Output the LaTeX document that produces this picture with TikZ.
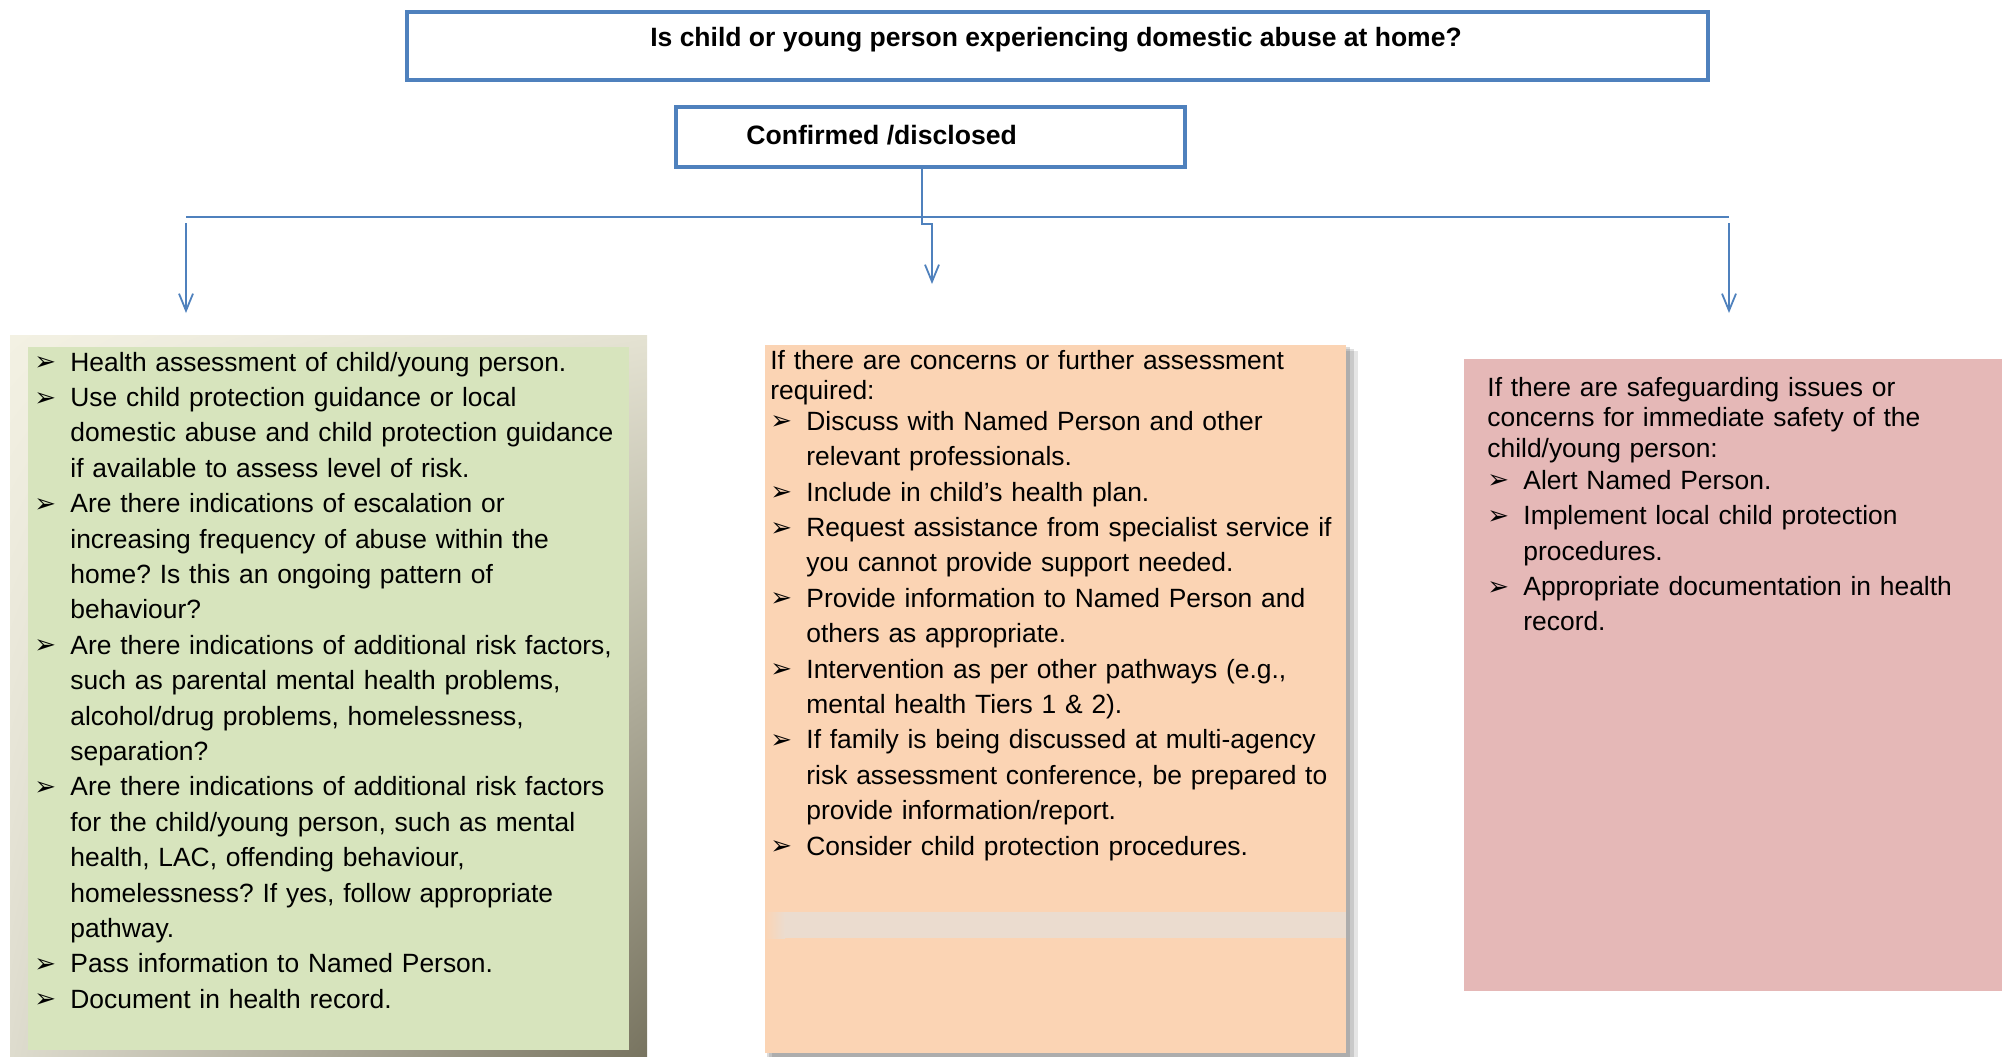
\documentclass[tikz,border=0pt]{standalone}
\usepackage{fontspec}
\setmainfont{Liberation Sans}
\newfontfamily\dingfont{DejaVu Sans}
\usetikzlibrary{arrows.meta,shadings}

\definecolor{ablue}{HTML}{4F81BD}
\definecolor{sage}{HTML}{D7E4BD}
\definecolor{peach}{HTML}{FBD4B4}
\definecolor{rose}{HTML}{E5B8B7}
\definecolor{bandc}{HTML}{EBDCCF}
\definecolor{frameUL}{HTML}{F3F1E3}
\definecolor{frameUR}{HTML}{E4E2D2}
\definecolor{frameLL}{HTML}{DEDCCE}
\definecolor{frameLR}{HTML}{77735F}

% list marker and hanging indent for continuation lines
\newcommand\bul{\makebox[18pt][l]{\dingfont\fontsize{13}{13}\selectfont\raisebox{0.2pt}{➢}}}
\newcommand\ind{\hspace*{18pt}}

\begin{document}
\frenchspacing
\begin{tikzpicture}[x=0.5pt,y=-0.5pt,
  frame/.style={draw=ablue, line width=2pt, inner sep=0pt, anchor=north west},
  panel/.style={inner sep=0pt, outer sep=0pt, anchor=north west},
  head/.style={font=\bfseries\fontsize{13.25}{15}\selectfont, inner sep=0pt},
  body/.style={font=\fontsize{13.2}{17.7}\selectfont, align=left, text width=400pt,
               inner sep=0pt, anchor=base west},
  link/.style={draw=ablue, line width=0.9pt},
  tip/.style={-{Straight Barb[length=8.5pt,width=7pt]}}]

\useasboundingbox (0,0) rectangle (2002,1056);

% question and answer boxes
\node[frame, minimum width=650.5pt, minimum height=34pt] (q) at (405,10) {};
\node[head, anchor=base] (qt) at (1056,46.5) {Is child or young person experiencing domestic abuse at home?};
\node[frame, minimum width=254.5pt, minimum height=30pt] (c) at (674,105) {};
\node[head, font=\bfseries\fontsize{13.3}{16}\selectfont, anchor=base west] (ct) at (746,144.5) {Confirmed /disclosed};

% branching bar with its arrows
\coordinate (barL) at (186,217);
\coordinate (barR) at (1729,217);
\coordinate (aL0) at (186,223);
\coordinate (aL1) at (186,313);
\coordinate (aR0) at (1729,223);
\coordinate (aR1) at (1729,313);
\coordinate (j1) at (922,224);
\coordinate (j2) at (932,224);
\coordinate (aM1) at (932,284);
\draw[link, line width=1.4pt] (barL) -- (barR);
\draw[link, tip] (aL0) -- (aL1);
\draw[link, tip] (aR0) -- (aR1);
\draw[link, tip] (c.south -| j1) -- (j1) -- (j2) -- (aM1);

% left panel: shaded frame and green card
\shade[upper left=frameUL, upper right=frameUR, lower left=frameLL, lower right=frameLR]
  (10,335) rectangle (647,1060);
\node[panel, fill=sage, minimum width=300.5pt, minimum height=351.5pt] (lbox) at (28,347) {};

% middle panel with soft drop shadow and pale band
\fill[black, opacity=0.10] (772,351) rectangle (1358,1064);
\fill[black, opacity=0.12] (769,349) rectangle (1354,1060);
\fill[black, opacity=0.14] (767,347) rectangle (1350,1057);
\node[panel, fill=peach, minimum width=290.5pt, minimum height=354pt] (mbox) at (765,345) {};
\shade[left color=peach, right color=bandc] (765,912) rectangle (785,938);
\fill[bandc] (785,912) rectangle (1346,938);

% right panel
\node[panel, fill=rose, minimum width=269pt, minimum height=316pt] (rbox) at (1464,359) {};

% panel texts
\node[body] (ltext) at (34,371) {%
\bul Health assessment of child/young person.\\
\bul Use child protection guidance or local\\
\ind domestic abuse and child protection guidance\\
\ind if available to assess level of risk.\\
\bul Are there indications of escalation or\\
\ind increasing frequency of abuse within the\\
\ind home? Is this an ongoing pattern of\\
\ind behaviour?\\
\bul Are there indications of additional risk factors,\\
\ind such as parental mental health problems,\\
\ind alcohol/drug problems, homelessness,\\
\ind separation?\\
\bul Are there indications of additional risk factors\\
\ind for the child/young person, such as mental\\
\ind health, LAC, offending behaviour,\\
\ind homelessness? If yes, follow appropriate\\
\ind pathway.\\
\bul Pass information to Named Person.\\
\bul Document in health record.};

\node[body] (mtext) at (770,369) {%
If there are concerns or further assessment\\[-2.3pt]
required:\\[-2.5pt]
\bul Discuss with Named Person and other\\
\ind relevant professionals.\\
\bul Include in child’s health plan.\\
\bul Request assistance from specialist service if\\
\ind you cannot provide support needed.\\
\bul Provide information to Named Person and\\
\ind others as appropriate.\\
\bul Intervention as per other pathways (e.g.,\\
\ind mental health Tiers 1 \& 2).\\
\bul If family is being discussed at multi-agency\\
\ind risk assessment conference, be prepared to\\
\ind provide information/report.\\
\bul Consider child protection procedures.};

\node[body] (rtext) at (1487,396) {%
If there are safeguarding issues or\\[-2.4pt]
concerns for immediate safety of the\\[-2.4pt]
child/young person:\\[-1.7pt]
\bul Alert Named Person.\\
\bul Implement local child protection\\
\ind procedures.\\
\bul Appropriate documentation in health\\
\ind record.};

\end{tikzpicture}
\end{document}
